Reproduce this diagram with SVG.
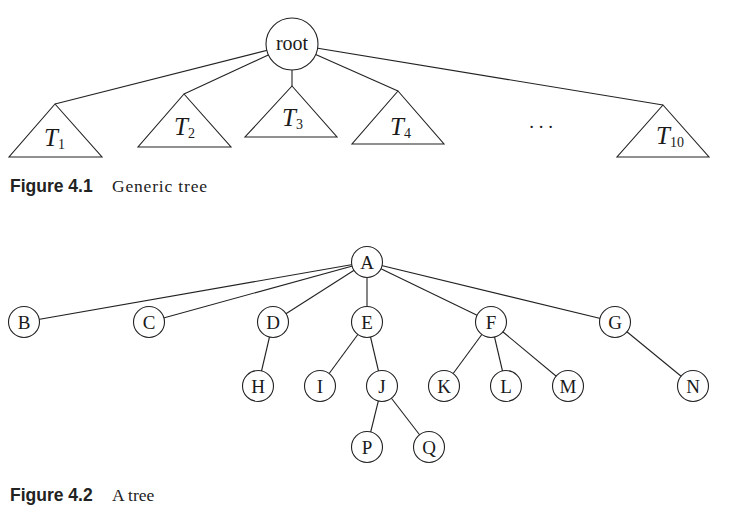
<svg xmlns="http://www.w3.org/2000/svg" width="731" height="512" viewBox="0 0 731 512">
  <style>
    .edge { stroke: #222; stroke-width: 1.1; fill: none; }
    .node { fill: #fff; stroke: #222; stroke-width: 1.1; }
    .tri { fill: #fff; stroke: #222; stroke-width: 1.1; stroke-linejoin: miter; }
    .lbl { font-family: "Liberation Serif", "DejaVu Serif", serif; font-size: 19px; fill: #1a1a1a; text-anchor: middle; }
    .root { font-size: 20px; }
    .tname { font-family: "Liberation Serif", "DejaVu Serif", serif; font-style: italic; font-size: 25px; fill: #1a1a1a; }
    .sub { font-family: "Liberation Serif", "DejaVu Serif", serif; font-style: normal; font-size: 14px; fill: #1a1a1a; }
    .capb { font-family: "Liberation Sans", Arial, sans-serif; font-weight: bold; font-size: 17.5px; fill: #222; }
    .capt { font-family: "Liberation Serif", "DejaVu Serif", serif; font-size: 17.5px; fill: #222; }
  </style>

  <rect width="731" height="512" fill="#fff"/>

  <!-- Figure 4.1: generic tree -->
  <g id="edges-generic">
    <line class="edge" x1="292" y1="44" x2="55" y2="104"/>
    <line class="edge" x1="292" y1="44" x2="184" y2="94"/>
    <line class="edge" x1="292" y1="44" x2="292" y2="86"/>
    <line class="edge" x1="292" y1="44" x2="398" y2="91"/>
    <line class="edge" x1="292" y1="44" x2="663" y2="105"/>
  </g>

  <g id="root">
    <circle class="node" cx="292" cy="44" r="26"/>
    <text class="lbl root" x="292" y="50">root</text>
  </g>

  <g id="T1">
    <polygon class="tri" points="55,104 102,157 9,157"/>
    <text class="tname" x="44" y="146">T<tspan class="sub" dy="3">1</tspan></text>
  </g>
  <g id="T2">
    <polygon class="tri" points="184,94 231,147 138,147"/>
    <text class="tname" x="174" y="135">T<tspan class="sub" dy="3">2</tspan></text>
  </g>
  <g id="T3">
    <polygon class="tri" points="292,86 337,137 245,137"/>
    <text class="tname" x="282" y="126">T<tspan class="sub" dy="3">3</tspan></text>
  </g>
  <g id="T4">
    <polygon class="tri" points="398,91 444,144 352,144"/>
    <text class="tname" x="390" y="135">T<tspan class="sub" dy="3">4</tspan></text>
  </g>
  <g id="ellipsis">
    <text class="lbl" x="541" y="128" font-size="20">. . .</text>
  </g>
  <g id="T10">
    <polygon class="tri" points="663,105 709,157 617,157"/>
    <text class="tname" x="656" y="144">T<tspan class="sub" dy="3">10</tspan></text>
  </g>

  <g id="caption-4-1">
    <text class="capb" x="10" y="192">Figure 4.1</text>
    <text class="capt" x="112" y="192" textLength="95" lengthAdjust="spacing">Generic tree</text>
  </g>

  <!-- Figure 4.2: a tree -->
  <g id="edges">
    <line class="edge" x1="367" y1="262" x2="24" y2="322"/>
    <line class="edge" x1="367" y1="262" x2="149" y2="322"/>
    <line class="edge" x1="367" y1="262" x2="273" y2="322"/>
    <line class="edge" x1="367" y1="262" x2="367" y2="322"/>
    <line class="edge" x1="367" y1="262" x2="491" y2="322"/>
    <line class="edge" x1="367" y1="262" x2="615" y2="322"/>
    <line class="edge" x1="273" y1="322" x2="258" y2="386"/>
    <line class="edge" x1="367" y1="322" x2="320" y2="386"/>
    <line class="edge" x1="367" y1="322" x2="382" y2="386"/>
    <line class="edge" x1="491" y1="322" x2="444" y2="386"/>
    <line class="edge" x1="491" y1="322" x2="506" y2="386"/>
    <line class="edge" x1="491" y1="322" x2="568" y2="386"/>
    <line class="edge" x1="615" y1="322" x2="693" y2="386"/>
    <line class="edge" x1="382" y1="386" x2="367" y2="447"/>
    <line class="edge" x1="382" y1="386" x2="429" y2="447"/>
  </g>

  <g id="A"><circle class="node" cx="367" cy="262" r="15.5"/><text class="lbl" x="367" y="268.5">A</text></g>
  <g id="B"><circle class="node" cx="24" cy="322" r="15.5"/><text class="lbl" x="24" y="328.5">B</text></g>
  <g id="C"><circle class="node" cx="149" cy="322" r="15.5"/><text class="lbl" x="149" y="328.5">C</text></g>
  <g id="D"><circle class="node" cx="273" cy="322" r="15.5"/><text class="lbl" x="273" y="328.5">D</text></g>
  <g id="E"><circle class="node" cx="367" cy="322" r="15.5"/><text class="lbl" x="367" y="328.5">E</text></g>
  <g id="F"><circle class="node" cx="491" cy="322" r="15.5"/><text class="lbl" x="491" y="328.5">F</text></g>
  <g id="G"><circle class="node" cx="615" cy="322" r="15.5"/><text class="lbl" x="615" y="328.5">G</text></g>
  <g id="H"><circle class="node" cx="258" cy="386" r="15.5"/><text class="lbl" x="258" y="392.5">H</text></g>
  <g id="I"><circle class="node" cx="320" cy="386" r="15.5"/><text class="lbl" x="320" y="392.5">I</text></g>
  <g id="J"><circle class="node" cx="382" cy="386" r="15.5"/><text class="lbl" x="382" y="392.5">J</text></g>
  <g id="K"><circle class="node" cx="444" cy="386" r="15.5"/><text class="lbl" x="444" y="392.5">K</text></g>
  <g id="L"><circle class="node" cx="506" cy="386" r="15.5"/><text class="lbl" x="506" y="392.5">L</text></g>
  <g id="M"><circle class="node" cx="568" cy="386" r="15.5"/><text class="lbl" x="568" y="392.5">M</text></g>
  <g id="N"><circle class="node" cx="693" cy="386" r="15.5"/><text class="lbl" x="693" y="392.5">N</text></g>
  <g id="P"><circle class="node" cx="367" cy="447" r="15.5"/><text class="lbl" x="367" y="453.5">P</text></g>
  <g id="Q"><circle class="node" cx="429" cy="447" r="15.5"/><text class="lbl" x="429" y="453.5">Q</text></g>

  <g id="caption-4-2">
    <text class="capb" x="10" y="501">Figure 4.2</text>
    <text class="capt" x="112" y="501">A tree</text>
  </g>
</svg>
